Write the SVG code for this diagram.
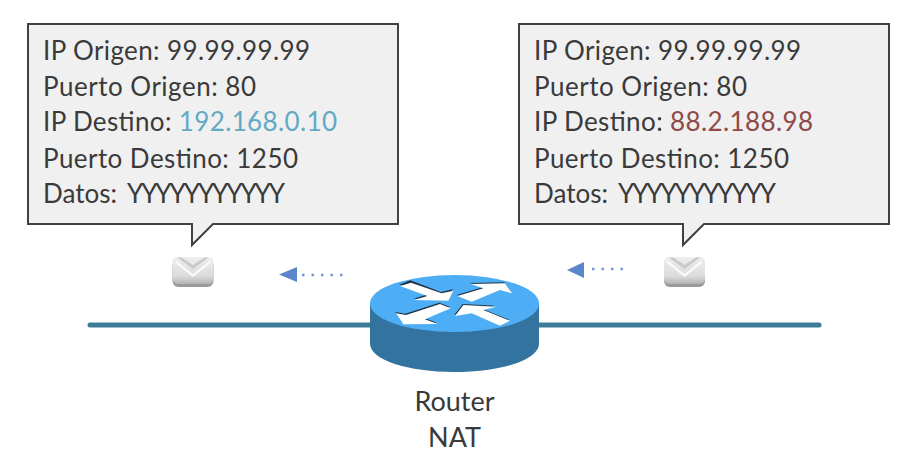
<svg xmlns="http://www.w3.org/2000/svg" width="914" height="464" viewBox="0 0 914 464">
<style>
text{font-family:"Lato","Carlito","Liberation Sans",sans-serif;font-size:26px;fill:#3a3a3a}
.label{font-size:27px}
.bubble{fill:#f0f0f0;stroke:#404040;stroke-width:2}
.link{stroke:#3d7c98;stroke-width:5;stroke-linecap:round;fill:none}
.flow{fill:#5b86cc}
.dots{stroke:#6d94d2;stroke-width:2.4;stroke-dasharray:2.4 7.1;fill:none}
.arrowW{fill:#fff}
.arrowS{fill:#1d3344}
</style>
<defs>
<linearGradient id="env" x1="0" y1="0" x2="0" y2="1"><stop offset="0" stop-color="#eeeeee"/><stop offset=".7" stop-color="#dcdcdc"/><stop offset="1" stop-color="#b4b4b4"/></linearGradient>
<filter id="soft" x="-10%" y="-10%" width="120%" height="130%"><feGaussianBlur stdDeviation=".7"/></filter>
<g id="envelope">
<g filter="url(#soft)">
<rect x="0" y="3" width="41" height="27" rx="6" fill="#9a9a9a"/>
<rect x="0" y="0" width="41" height="27" rx="5" fill="url(#env)"/>
<path d="M5 0.500L20.500 12L36 0.500H32L20.500 8L9 0.500Z" fill="#c9c9c9"/>
<path d="M3 3L20.500 17L38 3V6L20.500 20L3 6Z" fill="#fafafa"/>
</g>
</g>
</defs>
<g id="connectors">
<path class="link" d="M90 325H372"/>
<path class="link" d="M537 325H819"/>
</g>
<g id="bubble-left">
<path class="bubble" d="M28 24H398V224H213L192 245V224H28Z"/>
<text x="43" y="60" textLength="267">IP Origen: 99.99.99.99</text>
<text x="43" y="96" textLength="213">Puerto Origen: 80</text>
<text x="43" y="131" textLength="294">IP Destino: <tspan fill="#62a9c6">192.168.0.10</tspan></text>
<text x="43" y="168" textLength="255">Puerto Destino: 1250</text>
<text x="43" y="203">Datos:<tspan x="127" textLength="158">YYYYYYYYYYY</tspan></text>
</g>
<g id="bubble-right">
<path class="bubble" d="M519 24H889V224H704L683 245V224H519Z"/>
<text x="534" y="60" textLength="267">IP Origen: 99.99.99.99</text>
<text x="534" y="96" textLength="213">Puerto Origen: 80</text>
<text x="534" y="131" textLength="279">IP Destino: <tspan fill="#8f4a48">88.2.188.98</tspan></text>
<text x="534" y="168" textLength="255">Puerto Destino: 1250</text>
<text x="534" y="203">Datos:<tspan x="618" textLength="158">YYYYYYYYYYY</tspan></text>
</g>
<g id="envelope-left"><use href="#envelope" x="172.500" y="257"/></g>
<g id="envelope-right"><use href="#envelope" x="664" y="257"/></g>
<g id="flow-left">
<path class="flow" d="M279 274.500L297 267V282Z"/>
<path class="dots" d="M302 275H344"/>
</g>
<g id="flow-right">
<path class="flow" d="M567 270L584 262V278Z"/>
<path class="dots" d="M592 269H625"/>
</g>
<g id="router">
<path d="M370 303.500V343.500C370 360 408 372 454.500 372S539 360 539 343.500V303.500Z" fill="#33739f"/>
<ellipse cx="454.500" cy="303.500" rx="84.500" ry="28.500" fill="#4eaef5"/>
<g transform="translate(340 260) scale(.3333)">
<path class="arrowS" transform="translate(-2 -4)" d="M180 78L213 65L305 100L340 92L325 122L222 120L262 108Z"/>
<path class="arrowW" d="M180 78L213 68L305 100L340 92L325 122L222 120L262 108Z"/>
<path class="arrowS" transform="translate(-2 -3)" d="M352 108L430 85L392 72L495 70L517 100L480 90L395 125Z"/>
<path class="arrowW" d="M352 108L430 85L392 72L495 70L517 100L480 90L395 125Z"/>
<path class="arrowS" transform="translate(-2 -4)" d="M168 160L198 165L300 132L332 145L255 178L293 192L190 193Z"/>
<path class="arrowW" d="M168 160L198 165L300 132L332 145L255 178L293 192L190 193Z"/>
<path class="arrowS" transform="translate(-2 -3)" d="M345 168L370 135L468 140L430 150L510 182L480 197L395 160Z"/>
<path class="arrowW" d="M345 168L370 135L468 140L430 150L510 182L480 197L395 160Z"/>
</g>
</g>
<g id="router-label">
<text class="label" x="454.500" y="411" text-anchor="middle">Router</text>
<text class="label" x="454.500" y="447" text-anchor="middle">NAT</text>
</g>
</svg>
